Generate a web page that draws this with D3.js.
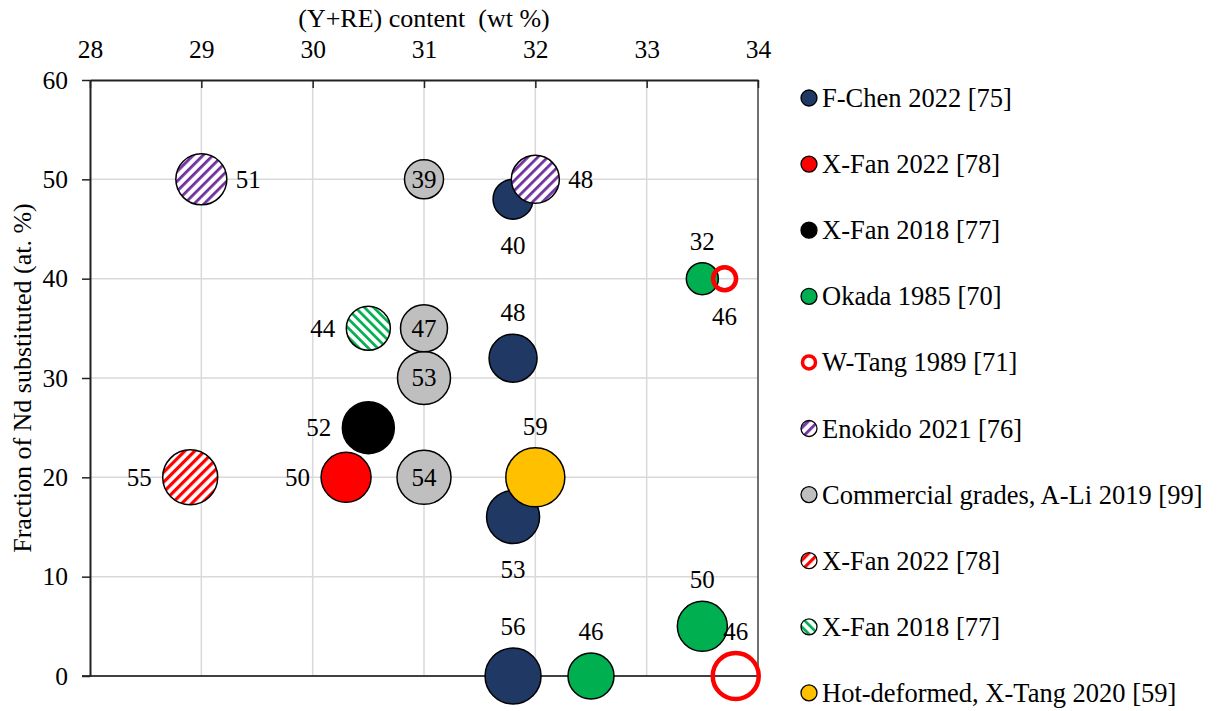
<!DOCTYPE html>
<html>
<head>
<meta charset="utf-8">
<script src="https://cdn.jsdelivr.net/npm/d3@7"></script>
<style>
  body { margin: 0; background: #fff; }
  svg text { font-family: "Liberation Serif", "Times New Roman", serif; fill: #000; }
</style>
</head>
<body>
<div id="wrap"></div>
<script>
var width = 1220;
var height = 711;

// axis ticks
var xTicks = [28, 29, 30, 31, 32, 33, 34];
var yTicks = [0, 10, 20, 30, 40, 50, 60];

// series, in legend order. x = (Y+RE) wt%, y = Nd substituted at.%, size = bubble size
var fChen2022 = [
  {x: 31.8, y: 48, size: 40, label: '40'},
  {x: 31.8, y: 32, size: 48, label: '48'},
  {x: 31.8, y: 16, size: 53, label: '53'},
  {x: 31.8, y: 0, size: 56, label: '56'}
];
var xFan2022 = [{x: 30.3, y: 20, size: 50, label: '50'}];
var xFan2018 = [{x: 30.5, y: 25, size: 52, label: '52'}];
var okada1985 = [
  {x: 33.5, y: 40, size: 32, label: '32'},
  {x: 33.5, y: 5, size: 50, label: '50'},
  {x: 32.5, y: 0, size: 46, label: '46'}
];
var wTang1989 = [
  {x: 33.7, y: 40, size: 23, label: '46'},
  {x: 33.8, y: 0, size: 46, label: '46'}
];
var enokido2021 = [
  {x: 29, y: 50, size: 51, label: '51'},
  {x: 32, y: 50, size: 48, label: '48'}
];
var commercial2019 = [
  {x: 31, y: 20, size: 54, label: '54'},
  {x: 31, y: 30, size: 53, label: '53'},
  {x: 31, y: 35, size: 47, label: '47'},
  {x: 31, y: 50, size: 39, label: '39'}
];
var xFan2022h = [{x: 28.9, y: 20, size: 55, label: '55'}];
var xFan2018h = [{x: 30.5, y: 35, size: 44, label: '44'}];
var hotDeformed2020 = [{x: 32, y: 20, size: 59, label: '59'}];

var legendNames = [
  'F-Chen 2022 [75]', 'X-Fan 2022 [78]', 'X-Fan 2018 [77]', 'Okada 1985 [70]',
  'W-Tang 1989 [71]', 'Enokido 2021 [76]', 'Commercial grades, A-Li 2019 [99]',
  'X-Fan 2022 [78]', 'X-Fan 2018 [77]', 'Hot-deformed, X-Tang 2020 [59]'
];
var seriesData = [fChen2022, xFan2022, xFan2018, okada1985, wTang1989,
  enokido2021, commercial2019, xFan2022h, xFan2018h, hotDeformed2020];

// styles per series (same order as legend)
var styles = [
  {fill: '#1F3864'},
  {fill: '#FF0000'},
  {fill: '#000000'},
  {fill: '#00B050'},
  {ring: '#FF0000'},
  {hatch: '#7030A0', angle: 45, w: 2.8, p: 7},
  {fill: '#BFBFBF'},
  {hatch: '#FF0000', angle: 45, w: 3.2, p: 7},
  {hatch: '#00B050', angle: -45, w: 2.7, p: 6.5},
  {fill: '#FFC000'}
];
// label placement: a=above b=below l=left r=right c=center
var placements = [
  ['b', 'a', 'b', 'a'], ['l'], ['l'], ['a', 'a', 'a'], ['b', 'a'],
  ['r', 'r'], ['c', 'c', 'c', 'c'], ['l'], ['l'], ['a']
];
// drawing order (Excel layering)
var drawOrder = [6, 0, 2, 1, 3, 5, 7, 8, 9, 4];

var pL = 90, pR = 758, pT = 80, pB = 676;
var x = d3.scaleLinear().domain([28, 34]).range([pL, pR]);
var y = d3.scaleLinear().domain([0, 60]).range([pB, pT]);
var r = d3.scaleLinear().domain([0, 60]).range([0, 30]);

var svg = d3.select('#wrap').append('svg')
  .attr('width', width).attr('height', height);

var defs = svg.append('defs');
styles.forEach(function(s, i) {
  if (!s.hatch) return;
  var pat = defs.append('pattern')
    .attr('id', 'hatch' + i)
    .attr('patternUnits', 'userSpaceOnUse')
    .attr('width', s.p).attr('height', s.p)
    .attr('patternTransform', 'rotate(' + s.angle + ')');
  pat.append('rect').attr('width', s.p).attr('height', s.p).attr('fill', '#fff');
  pat.append('rect').attr('width', s.w).attr('height', s.p).attr('fill', s.hatch);
});

function fillOf(i) {
  var s = styles[i];
  if (s.hatch) return 'url(#hatch' + i + ')';
  if (s.ring) return 'none';
  return s.fill;
}

// gridlines
svg.append('g').selectAll('line').data(xTicks.slice(1, -1)).join('line')
  .attr('x1', d => x(d)).attr('x2', d => x(d))
  .attr('y1', pT).attr('y2', pB)
  .attr('stroke', '#d9d9d9').attr('stroke-width', 1.5);
svg.append('g').selectAll('line').data(yTicks.slice(1, -1)).join('line')
  .attr('x1', pL).attr('x2', pR)
  .attr('y1', d => y(d)).attr('y2', d => y(d))
  .attr('stroke', '#d9d9d9').attr('stroke-width', 1.5);

// right border and bottom line
svg.append('line').attr('x1', pR).attr('x2', pR).attr('y1', pT).attr('y2', pB)
  .attr('stroke', '#404040').attr('stroke-width', 1.5);
svg.append('line').attr('x1', pL - 8).attr('x2', pR).attr('y1', pB).attr('y2', pB)
  .attr('stroke', '#404040').attr('stroke-width', 2);

// top x axis
var xAxis = svg.append('g')
  .attr('transform', 'translate(0,' + pT + ')')
  .call(d3.axisTop(x).tickValues(xTicks).tickSize(-8).tickSizeOuter(0).tickFormat(d3.format('d')));
xAxis.select('.domain').attr('stroke', '#222').attr('stroke-width', 2);
xAxis.selectAll('.tick line').attr('stroke', '#222').attr('stroke-width', 1.5);
xAxis.selectAll('.tick text')
  .attr('y', -22).attr('dy', 0)
  .style('font-size', '25.5px').style('font-family', '"Liberation Serif", serif');

// left y axis
var yAxis = svg.append('g')
  .attr('transform', 'translate(' + pL + ',0)')
  .call(d3.axisLeft(y).tickValues(yTicks).tickSize(8).tickSizeOuter(0).tickPadding(14).tickFormat(d3.format('d')));
yAxis.select('.domain').attr('stroke', '#222').attr('stroke-width', 2);
yAxis.selectAll('.tick line').attr('stroke', '#222').attr('stroke-width', 1.5);
yAxis.selectAll('.tick text')
  .style('font-size', '25.5px').style('font-family', '"Liberation Serif", serif');

// axis titles
svg.append('text')
  .attr('x', (pL + pR) / 2).attr('y', 27)
  .attr('text-anchor', 'middle')
  .style('font-size', '26px').style('white-space', 'pre')
  .text('(Y+RE) content  (wt %)');
svg.append('text')
  .attr('transform', 'translate(31,' + ((pT + pB) / 2) + ') rotate(-90)')
  .attr('text-anchor', 'middle')
  .style('font-size', '26px')
  .text('Fraction of Nd substituted (at. %)');

// bubbles
var bubbles = svg.append('g');
drawOrder.forEach(function(si) {
  var s = styles[si];
  bubbles.append('g').selectAll('circle').data(seriesData[si]).join('circle')
    .attr('cx', d => x(d.x)).attr('cy', d => y(d.y))
    .attr('r', d => r(d.size))
    .attr('fill', fillOf(si))
    .attr('stroke', s.ring ? s.ring : '#000')
    .attr('stroke-width', s.ring ? 4.5 : 1.5);
});

// data labels
var labels = svg.append('g').style('font-size', '25px');
seriesData.forEach(function(list, si) {
  list.forEach(function(d, j) {
    var p = placements[si][j];
    var cx = x(d.x), cy = y(d.y), rr = r(d.size);
    var t = labels.append('text').text(d.label);
    if (p === 'a') t.attr('x', cx).attr('y', cy - rr - 13).attr('text-anchor', 'middle');
    if (p === 'b') t.attr('x', cx).attr('y', cy + rr + 17).attr('dy', '0.71em').attr('text-anchor', 'middle');
    if (p === 'l') t.attr('x', cx - rr - 11).attr('y', cy).attr('dy', '0.33em').attr('text-anchor', 'end');
    if (p === 'r') t.attr('x', cx + rr + 9).attr('y', cy).attr('dy', '0.33em').attr('text-anchor', 'start');
    if (p === 'c') t.attr('x', cx).attr('y', cy).attr('dy', '0.33em').attr('text-anchor', 'middle');
  });
});

// legend
var legend = svg.append('g');
var item = legend.selectAll('g').data(legendNames).join('g')
  .attr('transform', (d, i) => 'translate(809,' + (98 + i * 66.1) + ')');
item.append('circle')
  .attr('r', (d, i) => styles[i].ring ? 6.5 : 8)
  .attr('fill', (d, i) => fillOf(i))
  .attr('stroke', (d, i) => styles[i].ring ? styles[i].ring : '#000')
  .attr('stroke-width', (d, i) => styles[i].ring ? 3.5 : 1.3);
item.append('text')
  .attr('x', 13).attr('dy', '0.34em')
  .style('font-size', '26.5px')
  .text(d => d);
</script>
</body>
</html>
